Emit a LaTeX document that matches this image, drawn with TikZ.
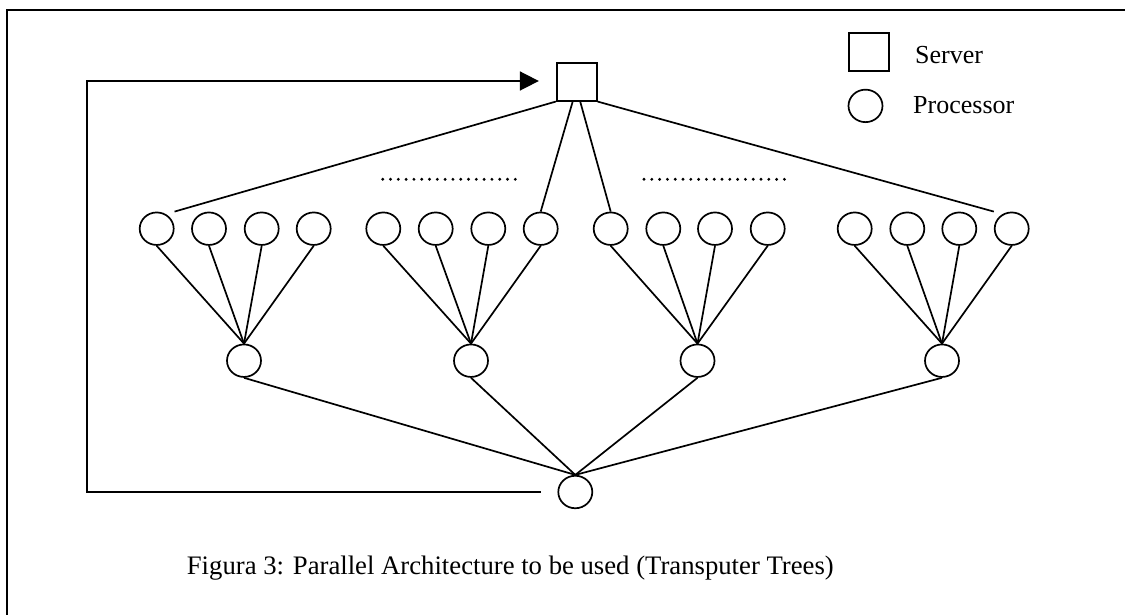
\documentclass[tikz,border=0pt]{standalone}
\usepackage{fontspec}
\setmainfont{Liberation Serif}
\usetikzlibrary{arrows.meta,calc,shapes.geometric}
\begin{document}
\begin{tikzpicture}[x=1pt,y=-1pt,
  proc/.style={ellipse,draw,line width=1.7pt,inner sep=0pt,minimum width=34pt,minimum height=32.5pt},
  serv/.style={rectangle,draw,line width=1.7pt,inner sep=0pt,minimum width=40pt,minimum height=38pt},
  link/.style={line width=1.7pt},
  lbl/.style={font=\fontsize{26}{30}\selectfont, inner sep=0pt, anchor=base west},
  dots/.style={line width=3.2pt, line cap=round, dash pattern=on 0pt off 7.8pt}]
\useasboundingbox (0,0) rectangle (1125,615);
\draw[line width=2pt] (6.7,615) -- (6.7,10) -- (1125,10);
% server
\node[serv] (server) at (576.7,81.7) {};
% leaf processors
\foreach \n/\x in {a1/156.7,a2/209,a3/261.7,a4/313.7,b1/383.3,b2/435.7,b3/488.3,b4/540.7,c1/610.7,c2/663.3,c3/715,c4/767.7,d1/854.7,d2/907.3,d3/959.3,d4/1011.7}
  \node[proc] (\n) at (\x,228.7) {};
% middle processors
\foreach \n/\x in {a/244,b/471,c/697.5,d/942}
  \node[proc] (m\n) at (\x,360.7) {};
% root processor
\node[proc] (root) at (575.3,492) {};
% tree edges
\foreach \g in {a,b,c,d}{
  \foreach \i in {1,...,4}
    \draw[link] (\g\i.south) -- (m\g.north);
  \draw[link] (m\g.south) -- (root.north);
}
% server links
\draw[link] (a1.north -| a1.east) -- (server.south west);
\draw[link] (b4.north) -- ($(server.south)+(-4,0)$);
\draw[link] (c1.north) -- ($(server.south)+(3.5,0)$);
\draw[link] (d4.north -| d4.west) -- (server.south east);
% return arrow
\coordinate (lp) at (87,81);
\draw[link,-{Triangle[length=19pt,width=19pt]}, shorten <=16.6pt, shorten >=17pt]
  (root.west) -| (lp) -- (lp -| server.west);
% dots
\draw[dots] (382.7,179.3) -- (523,179.3);
\draw[dots] (644,179.3) -- (785,179.3);
% legend
\node[serv] (lsq) at (868.8,51.8) {};
\node[proc] (lci) at (865.5,105.9) {};
\node[lbl] (lsv) at (915,63.5) {Server};
\node[lbl] (lpr) at (913,113.3) {Processor};
% caption
\node[lbl, font=\fontsize{26.7}{30}\selectfont] (cap) at (186.7,574) {Figura 3: Parallel Architecture to be used (Transputer Trees)};
\end{tikzpicture}
\end{document}
